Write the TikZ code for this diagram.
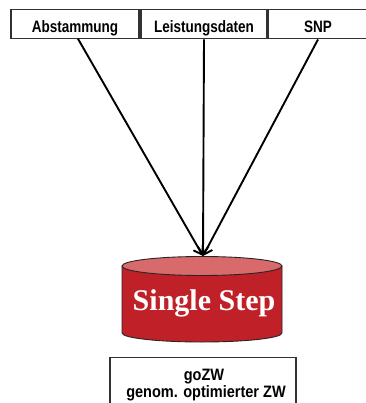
\documentclass[tikz,border=0pt]{standalone}
\usepackage{fontspec}
\setmainfont{Liberation Sans}
\newfontfamily\serifbold{Liberation Serif}
\usetikzlibrary{arrows.meta}
\definecolor{cylbody}{RGB}{192,32,40}
\definecolor{cyltop}{RGB}{216,106,108}
\definecolor{boxline}{RGB}{50,50,50}
\newcommand\narrowtxt[2]{\scalebox{#1}[1]{#2}}
\tikzset{
  srcbox/.style={draw=boxline, line width=1.3bp, fill=white, minimum height=29bp, inner sep=0pt,
     font=\fontsize{16.5bp}{18bp}\selectfont\bfseries, text height=16.8bp, text depth=0bp},
  conn/.style={line width=1.9bp, draw=black, -{Straight Barb[length=8bp,width=11bp,line width=1.9bp]}},
  restext/.style={font=\fontsize{16.5bp}{18bp}\selectfont\bfseries, anchor=base, inner sep=0pt}
}
\begin{document}
\begin{tikzpicture}[x=1bp,y=-1bp]
\useasboundingbox (0,0) rectangle (366,403);
\fill[white] (0,0) rectangle (366,403);
% source boxes
\node[srcbox, minimum width=128bp] (abst) at (75,24.3) {\narrowtxt{0.82}{Abstammung}};
\node[srcbox, minimum width=126bp] (leist) at (204,24.3) {\narrowtxt{0.82}{Leistungsdaten}};
\node[srcbox, minimum width=102bp] (snp) at (319,24.3) {\hspace*{-2bp}\narrowtxt{0.82}{SNP}};
% cylinder
\fill[cylbody] (122,266) -- (122,333) arc[start angle=180,end angle=0,x radius=80,y radius=9] -- (282,266) -- cycle;
\draw[line width=0.9bp, black!85] (122,266) -- (122,333) arc[start angle=180,end angle=0,x radius=80,y radius=9] -- (282,266);
\draw[line width=0.9bp, black!85, fill=cyltop] (202,266) ellipse[x radius=80, y radius=9.5];
\node[text=white, font=\serifbold\fontsize{30bp}{32bp}\selectfont\bfseries, anchor=base, inner sep=0pt] (ss) at (204,310) {Single Step};
\coordinate (tip) at (203,256);
% connectors
\draw[conn] (78,38.8) -- (tip);
\draw[conn] (leist.south) -- (tip);
\draw[conn] (snp.south) ++(-1,0) -- (tip);
% result box
\node[draw=boxline, line width=1.3bp, minimum width=186bp, minimum height=60bp, anchor=north, inner sep=0pt] (res) at (203,356.5) {};
\node[restext] (r1) at (204,380) {\narrowtxt{0.88}{goZW}};
\node[restext] (r2) at (206,397) {\narrowtxt{0.88}{genom. optimierter ZW}};
\end{tikzpicture}
\end{document}
